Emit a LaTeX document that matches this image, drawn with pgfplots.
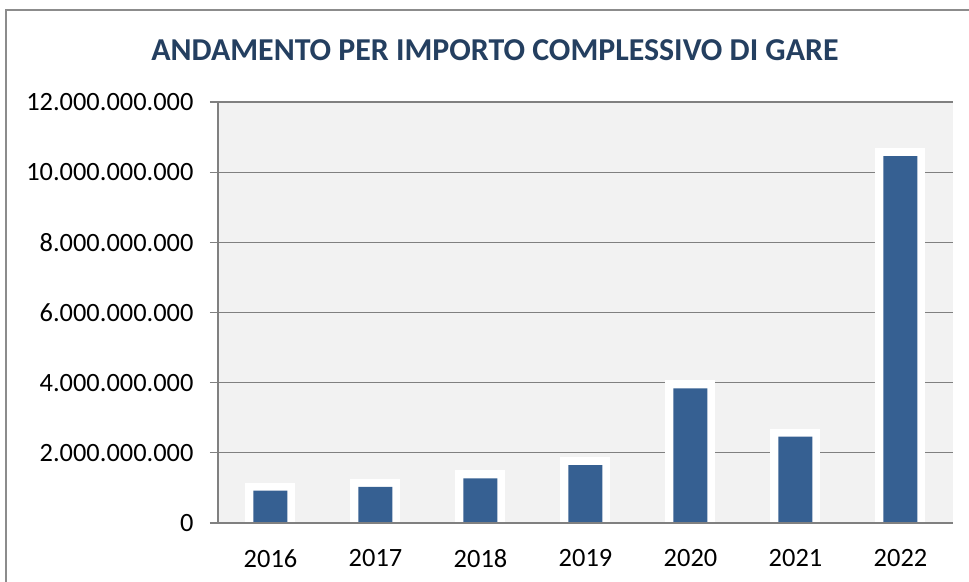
\documentclass[border=0pt]{standalone}
\usepackage{pgfplots}
\pgfplotsset{compat=1.18}
\usepackage{fontspec}
\setmainfont{Carlito}
\definecolor{barblue}{HTML}{366092}
\definecolor{titleblue}{HTML}{243F60}
\definecolor{gridgray}{HTML}{808080}
\definecolor{plotbg}{HTML}{F2F2F2}
\definecolor{framegray}{HTML}{8C8C8C}
\begin{document}
\begin{tikzpicture}
\begin{axis}[at={(0bp,0bp)}, anchor=south west, scale only axis,
  width=735bp, height=421bp,
  xmin=-0.5, xmax=6.5, ymin=0, ymax=12e9,
  scaled y ticks=false,
  xtick={0,1,2,3,4,5,6},
  xticklabels={2016,2017,2018,2019,2020,2021,2022},
  ytick={0,2e9,4e9,6e9,8e9,10e9,12e9},
  yticklabels={0,2.000.000.000,4.000.000.000,6.000.000.000,8.000.000.000,10.000.000.000,12.000.000.000},
  axis background/.style={fill=plotbg},
  ymajorgrids, grid style={gridgray, line width=1.3bp},
  axis x line*=bottom, axis y line*=left,
  axis line style={gridgray, line width=1.3bp},
  tick align=outside, major tick length=8bp,
  xtick style={draw=none},
  ytick style={gridgray, line width=1.3bp},
  tick label style={font=\fontsize{26.5}{30}\selectfont, text=black},
  yticklabel style={xshift=-13bp},
  xticklabel style={yshift=-15bp},
  /pgf/number format/assume math mode=true,
]
\addplot[ybar, bar width=34bp, fill=barblue, draw=none,
  preaction={draw=white, line width=16bp, line join=miter}]
  coordinates {(0,0.92e9) (1,1.03e9) (2,1.27e9) (3,1.65e9) (4,3.84e9) (5,2.46e9) (6,10.46e9)};
\draw[gridgray, line width=1.3bp] (axis cs:-0.5,0) -- (axis cs:6.5,0);
\end{axis}
\draw[color=framegray, line width=1.5bp] (-212bp,-80bp) -- (-212bp,513bp) -- (780bp,513bp);
\node[font=\bfseries\fontsize{32}{38}\selectfont, text=titleblue] at (277bp,473bp) {ANDAMENTO PER IMPORTO COMPLESSIVO DI GARE};
\pgfresetboundingbox
\path[use as bounding box] (-218bp,-59bp) rectangle (751bp,523bp);
\end{tikzpicture}
\end{document}
